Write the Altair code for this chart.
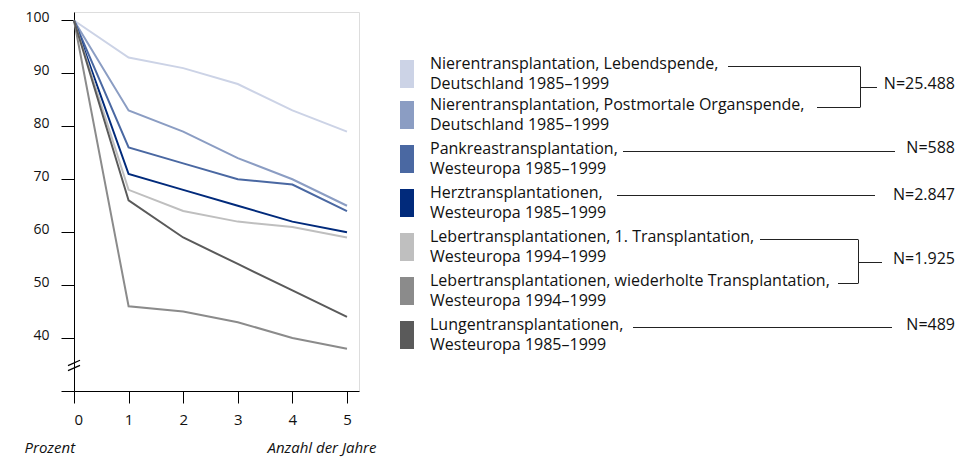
import altair as alt
import pandas as pd

# ---------------- data ----------------
YEARS = [0, 1, 2, 3, 4, 5]
SERIES = [
    "Niere Lebendspende",
    "Niere postmortal",
    "Pankreas",
    "Herz",
    "Leber 1.",
    "Leber wiederholt",
    "Lunge",
]
LABEL_LINE1 = [
    "Nierentransplantation, Lebendspende,",
    "Nierentransplantation, Postmortale Organspende,",
    "Pankreastransplantation,",
    "Herztransplantationen,",
    "Lebertransplantationen, 1. Transplantation,",
    "Lebertransplantationen, wiederholte Transplantation,",
    "Lungentransplantationen,",
]
LABEL_LINE2 = [
    "Deutschland 1985–1999",
    "Deutschland 1985–1999",
    "Westeuropa 1985–1999",
    "Westeuropa 1985–1999",
    "Westeuropa 1994–1999",
    "Westeuropa 1994–1999",
    "Westeuropa 1985–1999",
]
V_NIERE_LEBEND = [100, 93, 91, 88, 83, 79]
V_NIERE_POST = [100, 83, 79, 74, 70, 65]
V_PANKREAS = [100, 76, 73, 70, 69, 64]
V_HERZ = [100, 71, 68, 65, 62, 60]
V_LEBER_1 = [100, 68, 64, 62, 61, 59]
V_LEBER_W = [100, 46, 45, 43, 40, 38]
V_LUNGE = [100, 66, 59, 54, 49, 44]
VALUES = [V_NIERE_LEBEND, V_NIERE_POST, V_PANKREAS, V_HERZ, V_LEBER_1, V_LEBER_W, V_LUNGE]
COLORS = ["#ccd3e6", "#8b9dc3", "#4a68a2", "#012a7b", "#bfbfbf", "#8b8b8b", "#5a5a5a"]
N_LABELS = ["N=25.488", "N=588", "N=2.847", "N=1.925", "N=489"]
N_ROWS = [[0, 1], [2], [3], [4, 5], [6]]  # which legend rows each N belongs to
Y_TICKS = [30, 40, 50, 60, 70, 80, 90, 100]

# ---------------- layout (page pixels) ----------------
FONT = "Open Sans"
PAD_TOP = 4
PLOT_X0, PLOT_Y0 = 74, 8 + PAD_TOP
PLOT_W, PLOT_H = 285, 379
ROW_TOPS = [60, 101, 145, 189, 233, 277, 321]
SW_X, SW_W, SW_H = 400, 14, 28
TEXT_X = 430
LEADER_START = [728, 817, 623, 617, 760, 838, 633]
LEADER_END = [860, 860, 895, 875, 858, 858, 892]
BRACKET_STUB_END = [877, None, None, 882, None]
N_RIGHT = 955
N_BASE_DY = [1, 1, 4, 1, 2]


def rx(px):
    return px - PLOT_X0


def ry(py):
    return py - PLOT_Y0


# ---------------- tables ----------------
rows = []
for s, vals in zip(SERIES, VALUES):
    for yr, v in zip(YEARS, vals):
        rows.append({"series": s, "year": yr, "value": v})
df = pd.DataFrame(rows)

sw = pd.DataFrame({
    "x": [rx(SW_X)] * 7,
    "x2": [rx(SW_X + SW_W)] * 7,
    "y": [ry(t) for t in ROW_TOPS],
    "y2": [ry(t + SW_H) for t in ROW_TOPS],
    "col": COLORS,
})

txt_rows = []
for i in range(7):
    txt_rows.append({"x": rx(TEXT_X), "y": ry(ROW_TOPS[i] + 9), "t": LABEL_LINE1[i]})
    txt_rows.append({"x": rx(TEXT_X), "y": ry(ROW_TOPS[i] + 29), "t": LABEL_LINE2[i]})
txt = pd.DataFrame(txt_rows)

seg = []
for i in range(7):
    yy = ry(ROW_TOPS[i] + 6) + 0.5
    seg.append({"x": rx(LEADER_START[i]), "x2": rx(LEADER_END[i]), "y": yy, "y2": yy})
nlab = []
for k, (lab, members) in enumerate(zip(N_LABELS, N_ROWS)):
    ys = [ry(ROW_TOPS[i] + 6) + 0.5 for i in members]
    if len(members) == 2:
        xv = rx(LEADER_END[members[0]]) + 0.5
        seg.append({"x": xv, "x2": xv, "y": ys[0], "y2": ys[1]})
        mid = round((ys[0] + ys[1]) / 2) + 0.5
        seg.append({"x": xv, "x2": rx(BRACKET_STUB_END[k]), "y": mid, "y2": mid})
        base = mid + N_BASE_DY[k]
    else:
        base = ys[0] + N_BASE_DY[k]
    nlab.append({"x": rx(N_RIGHT), "y": base, "t": lab})
segdf = pd.DataFrame(seg)
ndf = pd.DataFrame(nlab)

# axis break marks (data coordinates)
brk = pd.DataFrame({
    "x": [-0.11, -0.11],
    "x2": [0.11, 0.11],
    "y": [34.8, 33.85],
    "y2": [35.8, 34.85],
})

xscale = alt.Scale(domain=[0, 5.22], nice=False, zero=False)
yscale = alt.Scale(domain=[30, 101.6], nice=False, zero=False)

x_axis = alt.Axis(
    values=YEARS, format="d", tickSize=12, labelPadding=9, grid=False,
    domainColor="#000", tickColor="#000", labelColor="#111", labelFontSize=15,
    labelFont=FONT,
    title="Anzahl der Jahre", titleFont=FONT, titleFontStyle="italic",
    titleFontWeight="normal", titleFontSize=15, titleColor="#111",
    titleAlign="right", titleBaseline="alphabetic", titleX=302, titleY=61,
)
y_axis = alt.Axis(
    values=Y_TICKS, labelExpr="datum.value == 30 ? '' : datum.label",
    tickSize=13, labelPadding=12, grid=False,
    domainColor="#000", tickColor="#000", labelColor="#111", labelFontSize=14,
    labelFont=FONT, labelBaseline="middle", labelOffset=-3,
    title="Prozent", titleFont=FONT, titleFontStyle="italic",
    titleFontWeight="normal", titleFontSize=15, titleColor="#111",
    titleAngle=0, titleAlign="left", titleBaseline="alphabetic",
    titleX=-50, titleY=452 - PLOT_Y0,
)

lines = alt.Chart(df).mark_line(strokeWidth=2, clip=False).encode(
    x=alt.X("year:Q", scale=xscale, axis=x_axis),
    y=alt.Y("value:Q", scale=yscale, axis=y_axis),
    color=alt.Color("series:N", scale=alt.Scale(domain=SERIES, range=COLORS), legend=None),
    order=alt.Order("year:Q"),
)

breaks = alt.Chart(brk).mark_rule(color="#000", strokeWidth=1.2, clip=False).encode(
    x="x:Q", x2="x2:Q", y="y:Q", y2="y2:Q"
)

PX = dict(scale=None, axis=None)

swatches = alt.Chart(sw).mark_rect().encode(
    x=alt.X("x:Q", **PX), x2="x2:Q",
    y=alt.Y("y:Q", **PX), y2="y2:Q",
    color=alt.Color("col:N", scale=None),
)

labels = alt.Chart(txt).mark_text(
    align="left", baseline="alphabetic", font=FONT, fontSize=16, color="#111"
).encode(
    x=alt.X("x:Q", **PX), y=alt.Y("y:Q", **PX), text="t:N"
)

leaders = alt.Chart(segdf).mark_rule(color="#222", strokeWidth=1).encode(
    x=alt.X("x:Q", **PX), x2="x2:Q", y=alt.Y("y:Q", **PX), y2="y2:Q"
)

nlabels = alt.Chart(ndf).mark_text(
    align="right", baseline="alphabetic", font=FONT, fontSize=16, color="#111"
).encode(
    x=alt.X("x:Q", **PX), y=alt.Y("y:Q", **PX), text="t:N"
)

chart = alt.layer(
    alt.layer(lines, breaks), swatches, labels, leaders, nlabels
).properties(
    width=PLOT_W, height=PLOT_H,
    autosize=alt.AutoSizeParams(type="none"),
    padding={"left": 66, "top": PAD_TOP, "right": 604, "bottom": 66},
).configure_view(stroke=None).configure(background="white")

chart.save("out.html", embed_options={"renderer": "svg", "actions": False})
